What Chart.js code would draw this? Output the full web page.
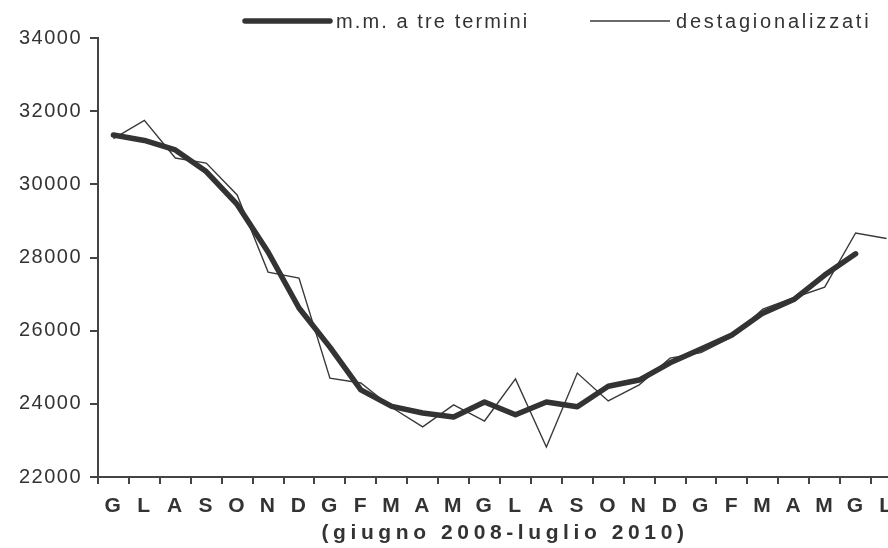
<!DOCTYPE html>
<html>
<head>
<meta charset="utf-8">
<script src="https://cdn.jsdelivr.net/npm/chart.js@4"></script>
<style>
  body { margin: 0; background: #fff; }
  #wrap { width: 888px; height: 548px; overflow: hidden; }
</style>
</head>
<body>
<div id="wrap"><canvas id="grafico" width="905" height="548" style="width:905px;height:548px"></canvas></div>
<script>
// mesi giugno 2008 - luglio 2010
var mesi = ['G', 'L', 'A', 'S', 'O', 'N', 'D', 'G', 'F', 'M', 'A', 'M', 'G', 'L', 'A', 'S', 'O', 'N', 'D', 'G', 'F', 'M', 'A', 'M', 'G', 'L'];
var mediaMobile = [31350, 31200, 30940, 30350, 29450, 28150, 26620, 25550, 24380, 23930, 23750, 23640, 24050, 23700, 24050, 23920, 24480, 24650, 25120, 25500, 25880, 26480, 26850, 27520, 28100, null];
var destagionalizzati = [31250, 31750, 30720, 30580, 29710, 27600, 27440, 24700, 24570, 23900, 23370, 23970, 23530, 24680, 22820, 24840, 24080, 24520, 25250, 25400, 25830, 26590, 26900, 27190, 28670, 28520];
var tickY = [22000, 24000, 26000, 28000, 30000, 32000, 34000];
var titoloAsse = '(giugno 2008-luglio 2010)';

var font = "'Liberation Sans', Arial, sans-serif";

// legenda e titolo disegnati a mano (spaziatura larga come nell'originale)
var legendaTitolo = {
    id: 'legendaTitolo',
    beforeDraw: function(chart) {
        chart.ctx.letterSpacing = '1.5px';
    },
    afterDraw: function(chart) {
        var ctx = chart.ctx;
        var area = chart.chartArea;
        var pos = [[245, 330, 336], [590, 670, 676]];
        ctx.save();
        chart.data.datasets.forEach(function(ds, i) {
            var p = pos[i];
            ctx.strokeStyle = ds.borderColor;
            ctx.lineWidth = ds.borderWidth;
            ctx.lineCap = i === 0 ? 'round' : 'butt';
            ctx.beginPath();
            ctx.moveTo(p[0], 21);
            ctx.lineTo(p[1], 21);
            ctx.stroke();
            ctx.fillStyle = '#333';
            ctx.font = '20px ' + font;
            ctx.letterSpacing = i === 0 ? '2.1px' : '2.8px';
            ctx.textAlign = 'left';
            ctx.textBaseline = 'alphabetic';
            ctx.fillText(ds.label, p[2], 28);
        });
        ctx.font = 'bold 21px ' + font;
        ctx.letterSpacing = '4.6px';
        ctx.textAlign = 'center';
        ctx.textBaseline = 'middle';
        ctx.fillStyle = '#333';
        ctx.fillText(titoloAsse, (area.left + area.right) / 2 + 5, 533);
        ctx.restore();
    }
};

var grafico = new Chart(document.getElementById('grafico'), {
    type: 'line',
    data: {
        labels: mesi,
        datasets: [{
            label: 'm.m. a tre termini',
            data: mediaMobile,
            borderColor: '#333',
            borderWidth: 5.5,
            borderJoinStyle: 'round',
            borderCapStyle: 'round',
            order: 0
        }, {
            label: 'destagionalizzati',
            data: destagionalizzati,
            borderColor: '#3a3a3a',
            borderWidth: 1.4,
            order: 1
        }]
    },
    options: {
        responsive: false,
        animation: false,
        layout: { padding: { top: 38, right: 3, left: 0, bottom: 0 } },
        elements: { point: { radius: 0 }, line: { tension: 0 } },
        plugins: {
            legend: { display: false },
            tooltip: { enabled: false }
        },
        scales: {
            x: {
                offset: true,
                grid: { offset: true, drawOnChartArea: false, tickLength: 7, color: '#444', lineWidth: 2 },
                border: { color: '#444', width: 2 },
                ticks: { color: '#333', font: { family: font, size: 21, weight: 'bold' }, padding: 10, maxRotation: 0, autoSkip: false },
                afterFit: function(s) { s.height = 71; }
            },
            y: {
                min: 22000,
                max: 34000,
                afterBuildTicks: function(s) { s.ticks = tickY.map(function(v) { return { value: v }; }); },
                grid: { drawOnChartArea: false, tickLength: 8, color: '#444', lineWidth: 2 },
                border: { color: '#444', width: 2 },
                ticks: {
                    color: '#333',
                    font: { family: font, size: 20 },
                    padding: 8,
                    callback: function(v) { return String(v); }
                },
                afterFit: function(s) { s.width = 98; }
            }
        }
    },
    plugins: [legendaTitolo]
});
</script>
</body>
</html>
